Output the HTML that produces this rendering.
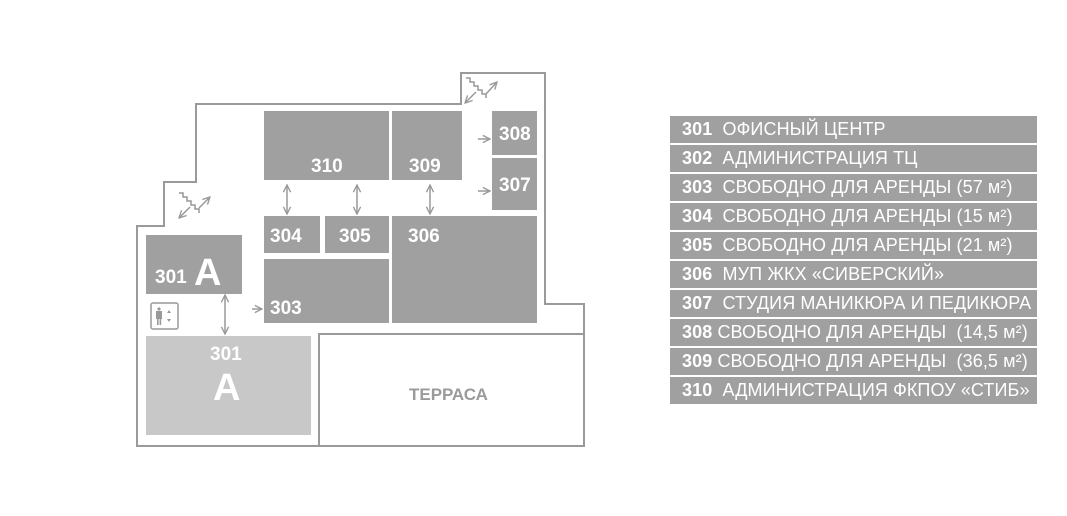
<!DOCTYPE html>
<html><head><meta charset="utf-8"><style>
body{margin:0;width:1067px;height:516px;background:#fff;overflow:hidden;font-family:"Liberation Sans",sans-serif}
.lg{position:absolute;left:670px;width:367px;height:27px;background:#a0a0a0;color:#fff;font-size:18px;line-height:27px;white-space:nowrap;padding-left:12px;box-sizing:border-box;letter-spacing:0.1px}
.lg b{font-weight:bold}
</style></head><body>
<svg width="1067" height="516" style="position:absolute;left:0;top:0" font-family="Liberation Sans, sans-serif">
<defs><marker id="ah" viewBox="0 0 10 10" refX="9" refY="5" markerWidth="9" markerHeight="9" orient="auto-start-reverse" markerUnits="userSpaceOnUse"><path d="M1,1 L9,5 L1,9" fill="none" stroke="#999" stroke-width="1.5"/></marker></defs>
<polygon points="461,73 545,73 545,304 584,304 584,446 137,446 137,226 164,226 164,182 196,182 196,104 461,104" fill="#fff" stroke="#9a9a9a" stroke-width="2"/>
<rect x="319" y="334" width="265" height="112" fill="#fff" stroke="#9a9a9a" stroke-width="2"/>
<g fill="#a0a0a0">
<rect x="264" y="111" width="125" height="69"/>
<rect x="392" y="111" width="70" height="69"/>
<rect x="492" y="111" width="45" height="44"/>
<rect x="492" y="158" width="45" height="52"/>
<rect x="264" y="216" width="56" height="37"/>
<rect x="325" y="216" width="64" height="37"/>
<rect x="392" y="216" width="145" height="107"/>
<rect x="264" y="259" width="125" height="64"/>
<rect x="146" y="235" width="96" height="59"/>
</g>
<rect x="146" y="336" width="165" height="99" fill="#c8c8c8"/>
<g fill="#fff" font-weight="bold" font-size="19">
<text x="311" y="172">310</text><text x="409" y="172">309</text>
<text x="499" y="140">308</text><text x="499" y="191">307</text>
<text x="270" y="242">304</text><text x="339" y="242">305</text><text x="408" y="242">306</text>
<text x="270" y="314">303</text>
<text x="155" y="283">301</text><text x="194" y="285" font-size="38">A</text>
<text x="210" y="360">301</text><text x="213" y="400" font-size="38">A</text>
</g>
<text x="409" y="400" fill="#9a9a9a" font-weight="bold" font-size="17">ТЕРРАСА</text>
<g stroke="#999" stroke-width="1.5" fill="none">
<line x1="287" y1="185" x2="287" y2="214" marker-start="url(#ah)" marker-end="url(#ah)"/>
<line x1="357" y1="185" x2="357" y2="214" marker-start="url(#ah)" marker-end="url(#ah)"/>
<line x1="430" y1="185" x2="430" y2="214" marker-start="url(#ah)" marker-end="url(#ah)"/>
<line x1="225" y1="295" x2="225" y2="334" marker-start="url(#ah)" marker-end="url(#ah)"/>
<line x1="478" y1="139" x2="490" y2="139" marker-end="url(#ah)"/>
<line x1="478" y1="191" x2="490" y2="191" marker-end="url(#ah)"/>
<line x1="252" y1="309" x2="262" y2="309" marker-end="url(#ah)"/>
<path d="M179,193 h4 v4 h4 v4 h4 v4 h4 v4 h4 v4"/>
<line x1="190" y1="207" x2="179" y2="218" marker-end="url(#ah)"/>
<line x1="199" y1="208" x2="210" y2="197" marker-end="url(#ah)"/>
<path d="M466,78 h4 v4 h4 v4 h4 v4 h4 v4 h4 v4"/>
<line x1="476" y1="92" x2="465" y2="103" marker-end="url(#ah)"/>
<line x1="486" y1="94" x2="497" y2="82" marker-end="url(#ah)"/>
<rect x="151" y="303" width="27" height="26" rx="2"/>
</g>
<g fill="#999"><circle cx="159" cy="309" r="1.6"/><rect x="156" y="311" width="6" height="8"/><rect x="157" y="318" width="1.6" height="7"/><rect x="159.6" y="318" width="1.6" height="7"/>
<path d="M169,310 l2,3 h-4z M169,322 l2,-3 h-4z"/></g>
</svg>
<div class="lg" style="top:116px"><b>301</b>&nbsp; ОФИСНЫЙ ЦЕНТР</div>
<div class="lg" style="top:145px"><b>302</b>&nbsp; АДМИНИСТРАЦИЯ ТЦ</div>
<div class="lg" style="top:174px"><b>303</b>&nbsp; СВОБОДНО ДЛЯ АРЕНДЫ (57 м²)</div>
<div class="lg" style="top:203px"><b>304</b>&nbsp; СВОБОДНО ДЛЯ АРЕНДЫ (15 м²)</div>
<div class="lg" style="top:232px"><b>305</b>&nbsp; СВОБОДНО ДЛЯ АРЕНДЫ (21 м²)</div>
<div class="lg" style="top:261px"><b>306</b>&nbsp; МУП ЖКХ «СИВЕРСКИЙ»</div>
<div class="lg" style="top:290px"><b>307</b>&nbsp; СТУДИЯ МАНИКЮРА И ПЕДИКЮРА</div>
<div class="lg" style="top:319px"><b>308</b> СВОБОДНО ДЛЯ АРЕНДЫ &nbsp;(14,5 м²)</div>
<div class="lg" style="top:348px"><b>309</b> СВОБОДНО ДЛЯ АРЕНДЫ &nbsp;(36,5 м²)</div>
<div class="lg" style="top:377px"><b>310</b>&nbsp; АДМИНИСТРАЦИЯ ФКПОУ «СТИБ»</div>
</body></html>
